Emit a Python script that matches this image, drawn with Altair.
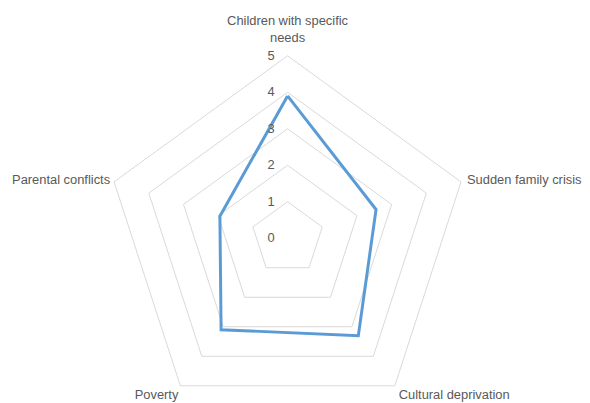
import altair as alt
import pandas as pd

categories = ["Children with specific needs", "Sudden family crisis",
              "Cultural deprivation", "Poverty", "Parental conflicts"]
values = [3.9, 2.55, 3.3, 3.1, 1.95]
grid_levels = [1, 2, 3, 4, 5]
tick_values = [0, 1, 2, 3, 4, 5]
tick_labels = ["0", "1", "2", "3", "4", "5"]

n = len(categories)
UNIT = 36.8
W, H = 574, 387
CX, CY = 282, 230.5

xs = alt.Scale(domain=[-CX / UNIT, (W - CX) / UNIT], nice=False, zero=False)
ys = alt.Scale(domain=[-(H - CY) / UNIT, CY / UNIT], nice=False, zero=False)

ANG = "datum.idx * 2 * PI / %d" % n

def polar(chart):
    return chart.transform_calculate(
        px="datum.r * sin(" + ANG + ")",
        py="datum.r * cos(" + ANG + ")",
    )

def xy():
    return dict(
        x=alt.X("px:Q", scale=xs, axis=None),
        y=alt.Y("py:Q", scale=ys, axis=None),
    )

# grid pentagons
grid_rows = []
for lv in grid_levels:
    for i in range(n + 1):
        grid_rows.append({"level": lv, "idx": i % n, "ord": i, "r": lv})
grid_df = pd.DataFrame(grid_rows)
grid = polar(alt.Chart(grid_df)).mark_line(
    stroke="#d9d9d9", strokeWidth=1
).encode(order="ord:Q", detail="level:N", **xy())

# data polygon
data_rows = []
for i in range(n + 1):
    data_rows.append({"idx": i % n, "ord": i, "r": values[i % n],
                      "category": categories[i % n]})
data_df = pd.DataFrame(data_rows)
series = polar(alt.Chart(data_df)).mark_line(
    stroke="#5b9bd5", strokeWidth=3, strokeJoin="miter"
).encode(order="ord:Q", **xy())

# tick labels
tick_df = pd.DataFrame({"idx": [0] * len(tick_values), "r": tick_values,
                        "label": tick_labels})
ticks = polar(alt.Chart(tick_df)).mark_text(
    align="right", baseline="middle", dx=-13, fontSize=13,
    font="Liberation Sans", color="#595959"
).encode(text="label:N", **xy())

# category labels
cat_df = pd.DataFrame({"idx": list(range(n)), "r": [5] * n,
                       "name": categories})
FONT = "Liberation Sans"
FS = 13
COL = "#595959"

def cat_layer(i, **kw):
    return polar(alt.Chart(cat_df).transform_filter("datum.idx == %d" % i)).mark_text(
        font=FONT, fontSize=FS, color=COL, **kw
    ).encode(text="name:N", **xy())

top = polar(alt.Chart(cat_df).transform_filter("datum.idx == 0")).transform_calculate(
    lines="split(replace(datum.name, 'specific ', 'specific|'), '|')"
).mark_text(
    font=FONT, fontSize=FS, color=COL, align="center", baseline="alphabetic",
    dy=-31.5, lineHeight=17.5
).encode(text="lines:N", **xy())
right = cat_layer(1, align="left", baseline="middle", dx=6, dy=-2)
bright = cat_layer(2, align="left", baseline="middle", dx=4, dy=9)
bleft = cat_layer(3, align="right", baseline="middle", dx=-2, dy=9)
left = cat_layer(4, align="right", baseline="middle", dx=-4, dy=-2)

chart = alt.layer(grid, series, ticks, top, right, bright, bleft, left).properties(
    width=W, height=H, padding=0
).configure_view(stroke=None)

chart.save("out.html", embed_options={"renderer": "svg", "actions": False})
